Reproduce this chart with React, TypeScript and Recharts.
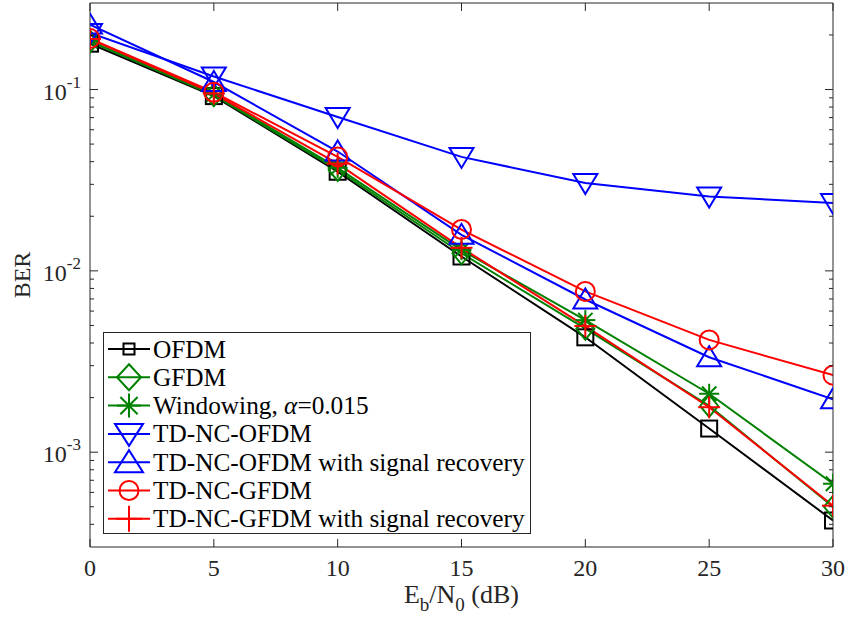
import React from 'react';
import { LineChart, Line, XAxis, YAxis, Legend } from 'recharts';

const snr = [0, 5, 10, 15, 20, 25, 30];
const berOFDM = [0.179, 0.092, 0.0352, 0.012, 0.0043, 0.00135, 0.00042];
const berGFDM = [0.184, 0.093, 0.036, 0.0125, 0.0048, 0.0018, 0.0005];
const berWindowing = [0.185, 0.094, 0.037, 0.013, 0.00535, 0.0021, 0.00067];
const berTDNCOFDM = [0.205, 0.118, 0.0705, 0.0425, 0.0305, 0.0257, 0.0237];
const berTDNCOFDMRec = [0.228, 0.11, 0.0455, 0.0158, 0.00695, 0.00334, 0.00196];
const berTDNCGFDM = [0.191, 0.0966, 0.0425, 0.0169, 0.0077, 0.00416, 0.00266];
const berTDNCGFDMRec = [0.19, 0.095, 0.039, 0.0134, 0.00496, 0.00177, 0.000507];

const xTicks = [0, 5, 10, 15, 20, 25, 30];
const yMajorTicks = [0.001, 0.01, 0.1];
const yMinorTicks = [
  0.0004, 0.0005, 0.0006, 0.0007, 0.0008, 0.0009,
  0.002, 0.003, 0.004, 0.005, 0.006, 0.007, 0.008, 0.009,
  0.02, 0.03, 0.04, 0.05, 0.06, 0.07, 0.08, 0.09,
  0.2,
];
const yTicks = [...yMajorTicks, ...yMinorTicks].sort((a, b) => a - b);

const FONT = "'Liberation Serif', 'Times New Roman', serif";
const AXIS = '#262626';

type Kind = 'square' | 'diamond' | 'asterisk' | 'down' | 'up' | 'circle' | 'plus';

const seriesDefs: { key: string; name: string; color: string; kind: Kind; values: number[] }[] = [
  { key: 'ofdm', name: 'OFDM', color: '#000000', kind: 'square', values: berOFDM },
  { key: 'gfdm', name: 'GFDM', color: '#008000', kind: 'diamond', values: berGFDM },
  { key: 'win', name: 'Windowing, α=0.015', color: '#008000', kind: 'asterisk', values: berWindowing },
  { key: 'tdncofdm', name: 'TD-NC-OFDM', color: '#0000FF', kind: 'down', values: berTDNCOFDM },
  { key: 'tdncofdmrec', name: 'TD-NC-OFDM with signal recovery', color: '#0000FF', kind: 'up', values: berTDNCOFDMRec },
  { key: 'tdncgfdm', name: 'TD-NC-GFDM', color: '#FF0000', kind: 'circle', values: berTDNCGFDM },
  { key: 'tdncgfdmrec', name: 'TD-NC-GFDM with signal recovery', color: '#FF0000', kind: 'plus', values: berTDNCGFDMRec },
];

const data = snr.map((s, i) => {
  const row: Record<string, number> = { snr: s };
  seriesDefs.forEach((d) => {
    row[d.key] = d.values[i];
  });
  return row;
});

function Marker({ kind, cx, cy, color, legend = false }: { kind: Kind; cx: number; cy: number; color: string; legend?: boolean }) {
  const sw = 2;
  const common = { fill: 'none', stroke: color, strokeWidth: sw };
  switch (kind) {
    case 'square': {
      const h = legend ? 5.5 : 8;
      return <rect x={cx - h} y={cy - h} width={2 * h} height={2 * h} {...common} />;
    }
    case 'diamond': {
      const w = legend ? 12 : 9;
      const h = legend ? 13 : 11;
      return <polygon points={`${cx},${cy - h} ${cx + w},${cy} ${cx},${cy + h} ${cx - w},${cy}`} {...common} />;
    }
    case 'asterisk': {
      const r = legend ? 12 : 10;
      const d = r * 0.72;
      return (
        <g stroke={color} strokeWidth={sw}>
          <line x1={cx - r} y1={cy} x2={cx + r} y2={cy} />
          <line x1={cx} y1={cy - r} x2={cx} y2={cy + r} />
          <line x1={cx - d} y1={cy - d} x2={cx + d} y2={cy + d} />
          <line x1={cx - d} y1={cy + d} x2={cx + d} y2={cy - d} />
        </g>
      );
    }
    case 'down': {
      const w = legend ? 14 : 12;
      const h = legend ? 10 : 9;
      return <polygon points={`${cx - w},${cy - h} ${cx + w},${cy - h} ${cx},${cy + h + 2}`} {...common} />;
    }
    case 'up': {
      const w = legend ? 14 : 12;
      const h = legend ? 10 : 9;
      return <polygon points={`${cx - w},${cy + h} ${cx + w},${cy + h} ${cx},${cy - h - 2}`} {...common} />;
    }
    case 'circle': {
      const r = legend ? 9.5 : 9.5;
      return <circle cx={cx} cy={cy} r={r} {...common} />;
    }
    case 'plus': {
      const r = legend ? 13 : 11;
      return (
        <g stroke={color} strokeWidth={sw}>
          <line x1={cx - r} y1={cy} x2={cx + r} y2={cy} />
          <line x1={cx} y1={cy - r} x2={cx} y2={cy + r} />
        </g>
      );
    }
  }
  return null;
}

const isMajor = (v: number) => yMajorTicks.some((m) => Math.abs(m - v) / m < 1e-6);

const LeftTick = (props: any) => {
  const { x, y, payload } = props;
  const v = payload.value as number;
  const major = isMajor(v);
  const exp = Math.round(Math.log10(v));
  return (
    <g>
      <line x1={x} x2={x + (major ? 8 : 4)} y1={y} y2={y} stroke={AXIS} strokeWidth={1} />
      {major && (
        <text x={x - 9} y={y + 10} textAnchor="end" fontFamily={FONT} fontSize={24} fill="#262626">
          10
          <tspan dy={-12} fontSize={17}>{`-${Math.abs(exp)}`}</tspan>
        </text>
      )}
    </g>
  );
};

const RightTick = (props: any) => {
  const { x, y, payload } = props;
  const major = isMajor(payload.value as number);
  return <line x1={x} x2={x - (major ? 8 : 4)} y1={y} y2={y} stroke={AXIS} strokeWidth={1} />;
};

const BottomTick = (props: any) => {
  const { x, y, payload } = props;
  return (
    <g>
      <line x1={x} x2={x} y1={y} y2={y - 8} stroke={AXIS} strokeWidth={1} />
      <text x={x} y={y + 29} textAnchor="middle" fontFamily={FONT} fontSize={24} fill="#262626">
        {payload.value}
      </text>
    </g>
  );
};

const TopTick = (props: any) => {
  const { x, y } = props;
  return <line x1={x} x2={x} y1={y} y2={y + 8} stroke={AXIS} strokeWidth={1} />;
};

const XLabel = (props: any) => {
  const vb = props.viewBox || { x: 90, y: 547, width: 743, height: 75 };
  const cx = vb.x + vb.width / 2;
  const by = vb.y + 56;
  return (
    <text x={cx} y={by} textAnchor="middle" fontFamily={FONT} fontSize={26} fill="#262626">
      E<tspan dy={8} fontSize={19}>b</tspan>
      <tspan dy={-8}>/N</tspan>
      <tspan dy={8} fontSize={19}>0</tspan>
      <tspan dy={-8}> (dB)</tspan>
    </text>
  );
};

const YLabel = (props: any) => {
  const vb = props.viewBox || { x: 0, y: 3, width: 90, height: 544 };
  const cy = vb.y + vb.height / 2;
  const x = 30;
  return (
    <text x={x} y={cy} textAnchor="middle" fontFamily={FONT} fontSize={24} fill="#262626" transform={`rotate(-90, ${x}, ${cy})`}>
      BER
    </text>
  );
};

const LegendContent = () => {
  const W = 428;
  const H = 202;
  const rowH = 28.3;
  return (
    <svg width={W} height={H} style={{ display: 'block' }}>
      <rect x={0.5} y={0.5} width={W - 1} height={H - 1} fill="#ffffff" stroke={AXIS} strokeWidth={1} />
      {seriesDefs.map((d, i) => {
        const cy = 17 + i * rowH;
        return (
          <g key={d.key}>
            <line x1={5} x2={47} y1={cy} y2={cy} stroke={d.color} strokeWidth={2} />
            <Marker kind={d.kind} cx={26} cy={cy} color={d.color} legend />
            <text x={50} y={cy + 8.5} fontFamily={FONT} fontSize={25.3} fill="#000000">
              {d.key === 'win' ? (
                <>
                  Windowing, <tspan fontStyle="italic">α</tspan>=0.015
                </>
              ) : (
                d.name
              )}
            </text>
          </g>
        );
      })}
    </svg>
  );
};

export default function App() {
  return (
    <div style={{ position: 'absolute', left: 0, top: 0, width: 848, height: 622, background: '#ffffff' }}>
      <LineChart width={848} height={622} data={data} margin={{ top: 0, right: 0, bottom: 0, left: 0 }}>
        <XAxis
          xAxisId="bottom"
          dataKey="snr"
          type="number"
          domain={[0, 30]}
          allowDataOverflow
          ticks={xTicks}
          interval={0}
          height={75}
          tickSize={0}
          tickMargin={0}
          tickLine={false}
          axisLine={{ stroke: AXIS, strokeWidth: 1 }}
          tick={<BottomTick />}
          label={<XLabel />}
        />
        <XAxis
          xAxisId="top"
          orientation="top"
          dataKey="snr"
          type="number"
          domain={[0, 30]}
          allowDataOverflow
          ticks={xTicks}
          interval={0}
          height={3}
          tickSize={0}
          tickMargin={0}
          tickLine={false}
          axisLine={{ stroke: AXIS, strokeWidth: 1 }}
          tick={<TopTick />}
        />
        <YAxis
          yAxisId="left"
          type="number"
          scale="log"
          domain={[0.0003, 0.3]}
          allowDataOverflow
          ticks={yTicks}
          interval={0}
          width={90}
          tickSize={0}
          tickMargin={0}
          tickLine={false}
          axisLine={{ stroke: AXIS, strokeWidth: 1 }}
          tick={<LeftTick />}
          label={<YLabel />}
        />
        <YAxis
          yAxisId="right"
          orientation="right"
          type="number"
          scale="log"
          domain={[0.0003, 0.3]}
          allowDataOverflow
          ticks={yTicks}
          interval={0}
          width={15}
          tickSize={0}
          tickMargin={0}
          tickLine={false}
          axisLine={{ stroke: AXIS, strokeWidth: 1 }}
          tick={<RightTick />}
        />
        <Legend
          layout="vertical"
          align="center"
          verticalAlign="middle"
          content={<LegendContent />}
          wrapperStyle={{ left: 103, top: 332, width: 428, height: 202 }}
        />
        {seriesDefs.map((d) => (
          <Line
            key={d.key}
            xAxisId="bottom"
            yAxisId="left"
            type="linear"
            dataKey={d.key}
            name={d.name}
            stroke={d.color}
            strokeWidth={2}
            isAnimationActive={false}
            activeDot={false}
            dot={(p: any) => <Marker key={`${d.key}-${p.index}`} kind={d.kind} cx={p.cx} cy={p.cy} color={d.color} />}
          />
        ))}
      </LineChart>
    </div>
  );
}
